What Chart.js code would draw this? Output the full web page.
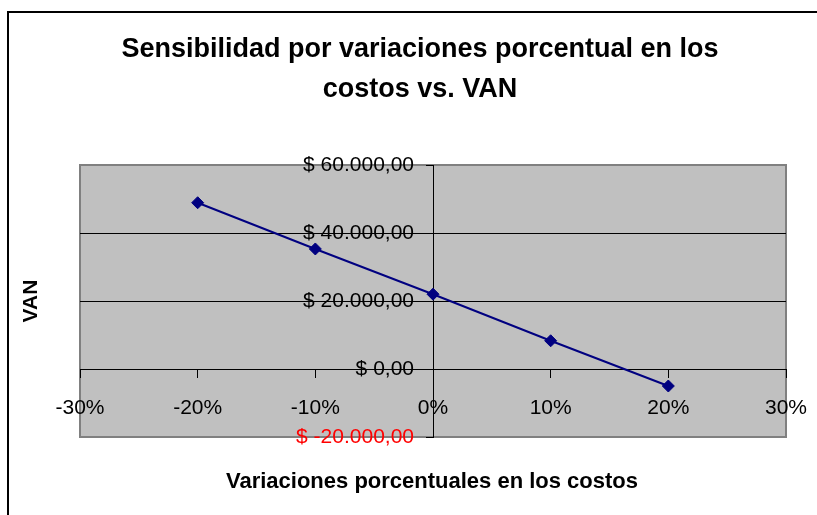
<!DOCTYPE html>
<html>
<head>
<meta charset="utf-8">
<script src="https://cdn.jsdelivr.net/npm/chart.js@4/dist/chart.umd.min.js"></script>
<style>
  html, body { margin: 0; padding: 0; background: #ffffff; }
  #wrap { width: 817px; height: 515px; position: relative; }
</style>
</head>
<body>
<div id="wrap"><canvas id="grafico" width="817" height="515"></canvas></div>
<script>
// Variación porcentual de los costos (eje X, en %) y VAN resultante
const variaciones = [-20, -10, 0, 10, 20];
const vanValores = [48900, 35300, 22000, 8300, -5000];

// Rango y paso de los ejes
const xMin = -30, xMax = 30, xPaso = 10;
const yMin = -20000, yMax = 60000, yPaso = 20000;

// Textos
const titulo = ['Sensibilidad por variaciones porcentual en los', 'costos vs. VAN'];
const tituloX = 'Variaciones porcentuales en los costos';
const tituloY = 'VAN';

const FUENTE = '"Liberation Sans", Arial, sans-serif';
Chart.defaults.font.family = FUENTE;

// Formato moneda: $ 60.000,00 / $ -20.000,00
function formatoPesos(v) {
  const neg = v < 0;
  const entero = Math.round(Math.abs(v)).toString().replace(/\B(?=(\d{3})+(?!\d))/g, '.');
  return '$ ' + (neg ? '-' : '') + entero + ',00';
}

// Las etiquetas de los extremos no deben reducir el área de trazado
function sinRelleno(scale) {
  scale.paddingLeft = 0;
  scale.paddingRight = 0;
  scale.paddingTop = 0;
  scale.paddingBottom = 0;
}

// Fondo, marco, área de trazado gris y títulos
const decoracion = {
  id: 'decoracion',
  beforeDraw(chart) {
    const { ctx, chartArea: a } = chart;
    ctx.save();
    ctx.fillStyle = '#ffffff';
    ctx.fillRect(0, 0, chart.width, chart.height);
    // marco del gráfico
    ctx.strokeStyle = '#000000';
    ctx.lineWidth = 2;
    ctx.beginPath();
    ctx.moveTo(8, chart.height + 10);
    ctx.lineTo(8, 12);
    ctx.lineTo(chart.width + 10, 12);
    ctx.stroke();
    // área de trazado con su borde gris
    ctx.fillStyle = '#C0C0C0';
    ctx.fillRect(a.left, a.top, a.right - a.left, a.bottom - a.top);
    ctx.strokeStyle = '#808080';
    ctx.lineWidth = 2;
    ctx.strokeRect(a.left, a.top, a.right - a.left, a.bottom - a.top);
    ctx.restore();
  },
  afterDraw(chart) {
    const { ctx } = chart;
    ctx.save();
    ctx.fillStyle = '#000000';
    ctx.textAlign = 'center';
    ctx.textBaseline = 'alphabetic';
    ctx.font = 'bold 27px ' + FUENTE;
    ctx.fillText(titulo[0], 420, 57);
    ctx.fillText(titulo[1], 420, 97);
    ctx.font = 'bold 22px ' + FUENTE;
    ctx.fillText(tituloX, 432, 488);
    ctx.translate(37, 301);
    ctx.rotate(-Math.PI / 2);
    ctx.font = 'bold 21px ' + FUENTE;
    ctx.fillText(tituloY, 0, 0);
    ctx.restore();
  }
};

new Chart(document.getElementById('grafico'), {
  type: 'scatter',
  data: {
    datasets: [{
      label: 'VAN',
      data: variaciones.map((x, i) => ({ x: x, y: vanValores[i] })),
      showLine: true,
      borderColor: '#000080',
      backgroundColor: '#000080',
      borderWidth: 2,
      pointStyle: 'rectRot',
      pointRadius: 6,
      pointHoverRadius: 6,
      pointBorderWidth: 1
    }]
  },
  options: {
    responsive: false,
    animation: false,
    devicePixelRatio: 1,
    events: [],
    layout: { padding: { left: 80, top: 165, right: 31, bottom: 78 } },
    plugins: {
      legend: { display: false },
      tooltip: { enabled: false },
      title: { display: false }
    },
    scales: {
      x: {
        type: 'linear',
        min: xMin,
        max: xMax,
        position: { y: 0 },
        afterFit: sinRelleno,
        ticks: {
          stepSize: xPaso,
          callback: v => v + '%',
          color: '#000000',
          font: { size: 21 },
          padding: 19,
          maxRotation: 0,
          autoSkip: false
        },
        grid: {
          drawOnChartArea: false,
          drawTicks: true,
          tickLength: 8,
          tickColor: '#000000',
          color: '#000000',
          lineWidth: 1
        },
        border: { display: true, color: '#000000', width: 1 }
      },
      y: {
        type: 'linear',
        min: yMin,
        max: yMax,
        position: 'center',
        afterFit: sinRelleno,
        ticks: {
          stepSize: yPaso,
          callback: v => formatoPesos(v),
          color: c => (c.tick && c.tick.value < 0) ? '#FF0000' : '#000000',
          font: { size: 21 },
          padding: 12
        },
        grid: {
          color: c => (c.tick && (c.tick.value === yMin || c.tick.value === yMax)) ? 'rgba(0,0,0,0)' : '#000000',
          tickColor: '#000000',
          tickLength: 7,
          lineWidth: 1
        },
        border: { display: true, color: '#000000', width: 1 }
      }
    }
  },
  plugins: [decoracion]
});
</script>
</body>
</html>
